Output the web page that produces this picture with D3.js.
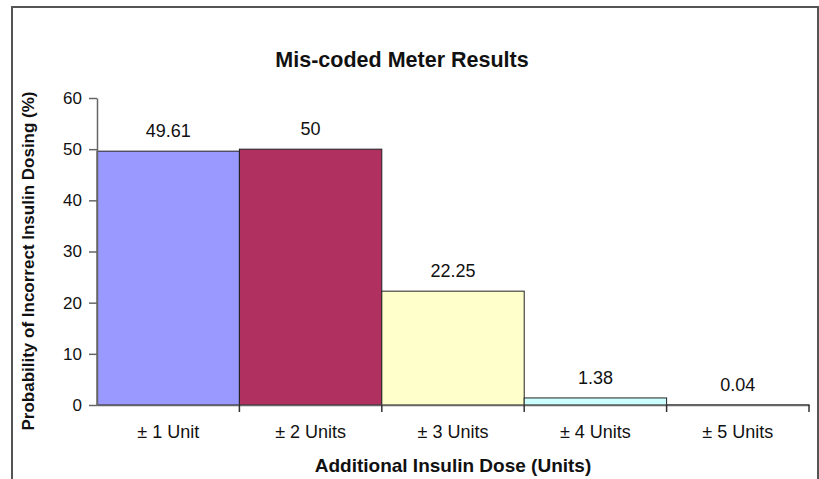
<!DOCTYPE html>
<html>
<head>
<meta charset="utf-8">
<script src="https://cdn.jsdelivr.net/npm/d3@7"></script>
<style>
  body { margin: 0; background: #fff; }
  text { font-family: "Liberation Sans", Arial, sans-serif; fill: #111; }
</style>
</head>
<body>
<div id="chart"></div>
<script>
// Datos
const categories = ["± 1 Unit", "± 2 Units", "± 3 Units", "± 4 Units", "± 5 Units"];
const values = [49.61, 50, 22.25, 1.38, 0.04];
const valueLabels = ["49.61", "50", "22.25", "1.38", "0.04"];
const barColors = ["#9999ff", "#b03060", "#ffffcc", "#ccffff", "#ccffff"];
const yTicks = [0, 10, 20, 30, 40, 50, 60];

const WIDTH = 819;
const HEIGHT = 479;
const margin = { top: 98, right: 10, bottom: 74, left: 97 };

const svg = d3.select("#chart")
  .append("svg")
  .attr("width", WIDTH)
  .attr("height", HEIGHT);

// Borde exterior
svg.append("rect")
  .attr("x", 12)
  .attr("y", 7)
  .attr("width", 806)
  .attr("height", 490)
  .attr("fill", "none")
  .attr("stroke", "#555")
  .attr("stroke-width", 2);

// Escalas
const x = d3.scaleBand()
  .domain(categories)
  .range([margin.left, 809])
  .padding(0);

const y = d3.scaleLinear()
  .domain([0, 60])
  .range([405, margin.top]);

// Barras
svg.selectAll("rect.bar")
  .data(values)
  .join("rect")
  .attr("class", "bar")
  .attr("x", (d, i) => x(categories[i]))
  .attr("y", d => y(d))
  .attr("width", x.bandwidth())
  .attr("height", d => y(0) - y(d))
  .attr("fill", (d, i) => barColors[i])
  .attr("stroke", "#222")
  .attr("stroke-width", 1);

// Eje Y
const yAxis = svg.append("g")
  .attr("transform", `translate(${margin.left},0)`)
  .call(d3.axisLeft(y).tickValues(yTicks).tickSize(8).tickPadding(7).tickSizeOuter(0));
yAxis.select(".domain").attr("stroke", "#666").attr("stroke-width", 1.5);
yAxis.selectAll(".tick line").attr("stroke", "#666").attr("stroke-width", 1.5);
yAxis.selectAll(".tick text")
  .style("font-family", "Liberation Sans, Arial, sans-serif")
  .style("font-size", "17px")
  .attr("fill", "#222");

// Eje X
const xAxis = svg.append("g")
  .attr("transform", `translate(0,${y(0)})`)
  .call(d3.axisBottom(x).tickSize(0).tickPadding(20).tickSizeOuter(0));
xAxis.select(".domain").attr("stroke", "#666").attr("stroke-width", 1.5);
xAxis.selectAll(".tick text")
  .style("font-family", "Liberation Sans, Arial, sans-serif")
  .style("font-size", "18px")
  .attr("fill", "#222");

// Marcas entre categorías
svg.append("g")
  .selectAll("line")
  .data(categories)
  .join("line")
  .attr("x1", d => x(d) + x.bandwidth())
  .attr("x2", d => x(d) + x.bandwidth())
  .attr("y1", y(0))
  .attr("y2", y(0) + 7)
  .attr("stroke", "#333")
  .attr("stroke-width", 1.5);

// Etiquetas de valores
svg.append("g")
  .selectAll("text")
  .data(values)
  .join("text")
  .attr("x", (d, i) => x(categories[i]) + x.bandwidth() / 2)
  .attr("y", d => y(d) - 14)
  .attr("text-anchor", "middle")
  .style("font-size", "18px")
  .text((d, i) => valueLabels[i]);

// Título
svg.append("text")
  .attr("x", 402)
  .attr("y", 67)
  .attr("text-anchor", "middle")
  .style("font-size", "21.5px")
  .style("font-weight", "bold")
  .text("Mis-coded Meter Results");

// Título eje X
svg.append("text")
  .attr("x", (margin.left + 809) / 2)
  .attr("y", 472)
  .attr("text-anchor", "middle")
  .style("font-size", "19px")
  .style("font-weight", "bold")
  .text("Additional Insulin Dose (Units)");

// Título eje Y
svg.append("text")
  .attr("transform", "translate(34,261) rotate(-90)")
  .attr("text-anchor", "middle")
  .style("font-size", "17px")
  .style("font-weight", "bold")
  .text("Probability of Incorrect Insulin Dosing (%)");
</script>
</body>
</html>
